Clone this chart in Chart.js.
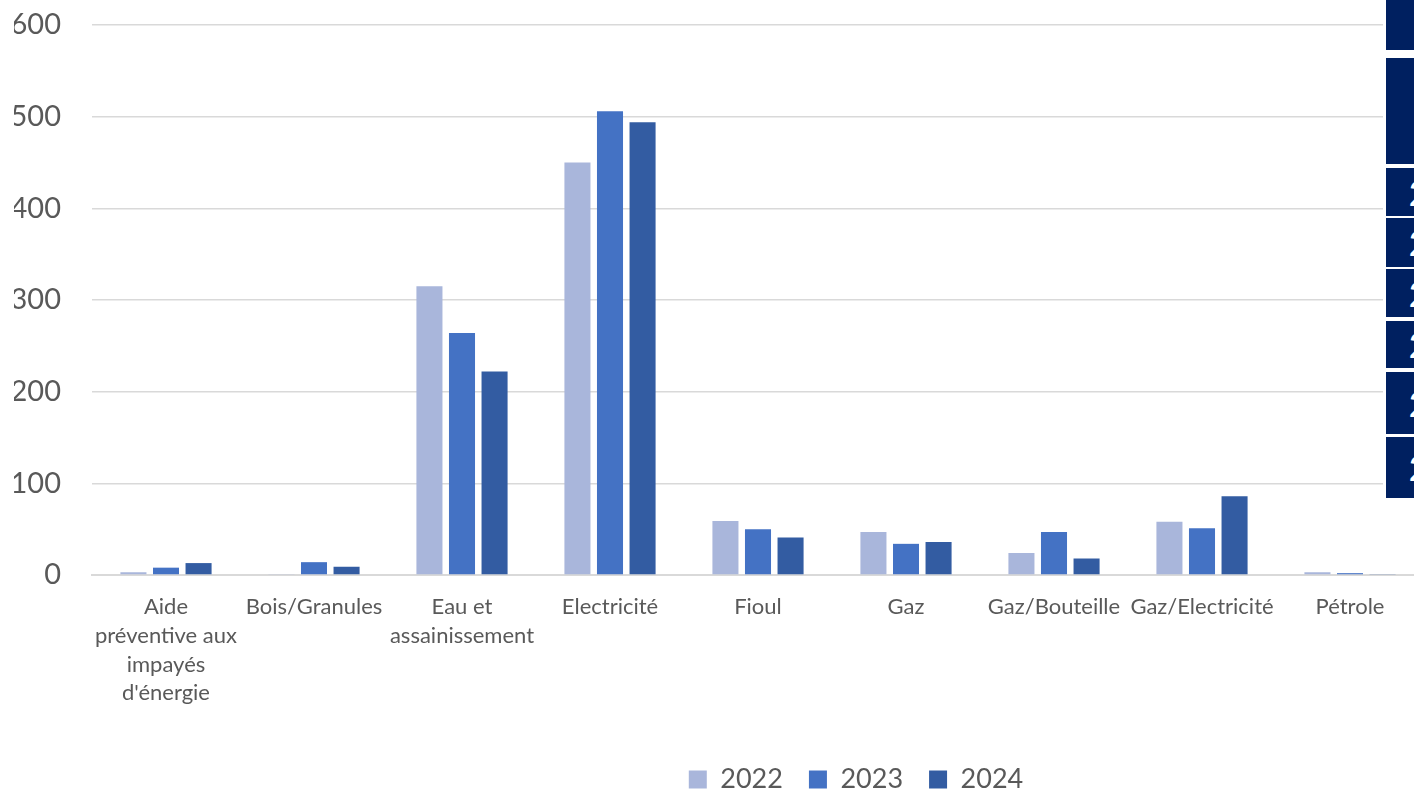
<!DOCTYPE html>
<html>
<head>
<meta charset="utf-8">
<script src="https://cdn.jsdelivr.net/npm/chart.js@4.4.1/dist/chart.umd.min.js"></script>
<style>
  html, body { margin: 0; padding: 0; background: #fff; overflow: hidden; }
  #wrap { position: relative; width: 1440px; height: 803px; }
  #side { position: absolute; left: 1383px; top: 0; width: 40px; height: 500px; background: #fff; }
  .blk { position: absolute; left: 3px; width: 40px; background: #002060; color: #fff;
         font: bold 34px Lato, sans-serif; overflow: hidden; box-sizing: border-box; padding-left: 23px;
         display: flex; align-items: center; }
</style>
</head>
<body>
<div id="wrap">
  <canvas id="chart" width="1440" height="803"></canvas>
  <div id="side"></div>
</div>
<script>
// categories and values
const categories = [
    ['Aide', 'préventive aux', 'impayés', "d'énergie"],
    'Bois/Granules',
    ['Eau et', 'assainissement'],
    'Electricité',
    'Fioul',
    'Gaz',
    'Gaz/Bouteille',
    'Gaz/Electricité',
    'Pétrole'
]
const years = ['2022', '2023', '2024']
const values2022 = [3, 1, 315, 450, 59, 47, 24, 58, 3]
const values2023 = [8, 14, 264, 506, 50, 34, 47, 51, 2]
const values2024 = [13, 9, 222, 494, 41, 36, 18, 86, 1]
const yTicks = [0, 100, 200, 300, 400, 500, 600]

// the dark table cut off on the right edge
const sideBlocks = [
    { top: 0, bottom: 50, text: '' },
    { top: 58, bottom: 164, text: '' },
    { top: 168, bottom: 216, text: '2' },
    { top: 218, bottom: 267, text: '2' },
    { top: 269, bottom: 317, text: '2' },
    { top: 321, bottom: 368, text: '2' },
    { top: 372, bottom: 434, text: '2' },
    { top: 437, bottom: 498, text: '2' }
]
const side = document.getElementById('side')
sideBlocks.forEach(b => {
    const d = document.createElement('div')
    d.className = 'blk'
    d.style.top = b.top + 'px'
    d.style.height = (b.bottom - b.top) + 'px'
    d.textContent = b.text
    side.appendChild(d)
})

const textColor = '#595959'
const colors = ['#A9B6DB', '#4472C4', '#335CA2']
const seriesValues = [values2022, values2023, values2024]

// shift the legend to where the original had it
const legendShift = {
    id: 'legendShift',
    afterLayout(chart) {
        const lg = chart.legend
        if (!lg) return
        const dx = 137
        lg.left += dx
        lg.right += dx
        if (lg.legendHitBoxes) lg.legendHitBoxes.forEach(h => { h.left += dx })
    }
}

new Chart(document.getElementById('chart'), {
    type: 'bar',
    data: {
        labels: categories,
        datasets: years.map((y, i) => ({
            label: y,
            data: seriesValues[i],
            backgroundColor: colors[i],
            borderWidth: 0,
            categoryPercentage: 0.66,
            barPercentage: 0.8
        }))
    },
    options: {
        responsive: false,
        animation: false,
        layout: { padding: { left: 14, right: 16, top: 25, bottom: 0 } },
        plugins: {
            tooltip: { enabled: false },
            legend: {
                position: 'bottom',
                labels: {
                    color: textColor,
                    font: { family: 'Lato', size: 27 },
                    boxWidth: 18,
                    boxHeight: 18,
                    padding: 26
                }
            }
        },
        scales: {
            x: {
                grid: { display: false },
                border: { color: '#D9D9D9', width: 2 },
                ticks: {
                    color: textColor,
                    font: { family: 'Lato', size: 22, lineHeight: 1.3 },
                    maxRotation: 0,
                    autoSkip: false,
                    padding: 10
                },
                afterFit(scale) { scale.height = 165 }
            },
            y: {
                min: 0,
                max: 600,
                afterBuildTicks(scale) { scale.ticks = yTicks.map(v => ({ value: v })) },
                grid: { color: '#D9D9D9', lineWidth: 1.5, drawTicks: false },
                border: { display: false },
                ticks: {
                    color: textColor,
                    font: { family: 'Lato', size: 29 },
                    padding: 31
                },
                afterFit(scale) {
                    scale.width = 78
                    scale.paddingTop = 0
                    scale.paddingBottom = 0
                }
            }
        }
    },
    plugins: [legendShift]
})
</script>
</body>
</html>
